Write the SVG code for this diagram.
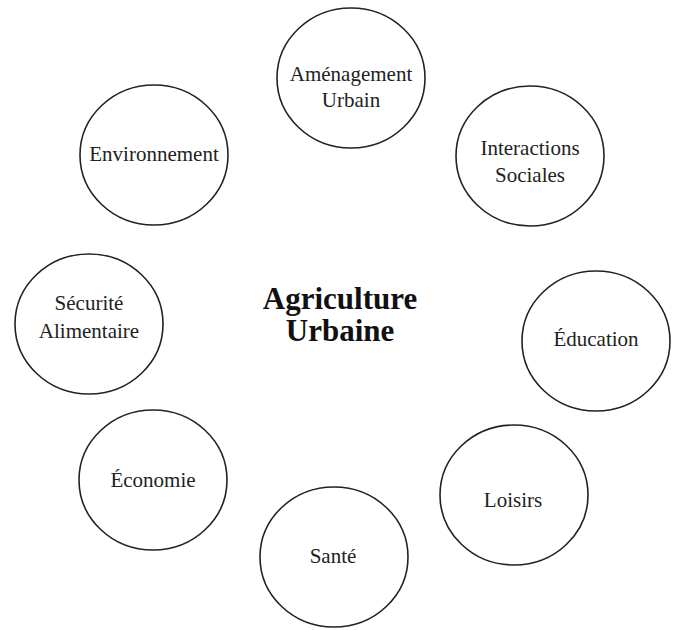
<svg xmlns="http://www.w3.org/2000/svg" width="678" height="630" viewBox="0 0 678 630">
<style>
.n ellipse{fill:#fff;stroke:#222;stroke-width:1.6}
.n text{font-family:"Liberation Serif","Times New Roman",serif;font-size:21px;fill:#222;text-anchor:middle}
.t{font-family:"Liberation Serif","Times New Roman",serif;font-size:31px;font-weight:bold;fill:#111;text-anchor:middle}
</style>
<rect width="678" height="630" fill="#fff"/>
<g id="connectors"></g>
<g id="center"><text class="t" x="340" y="309">Agriculture</text><text class="t" x="340" y="341">Urbaine</text></g>
<g id="amenagement" class="n"><ellipse cx="351" cy="78" rx="74" ry="70"/><text x="351" y="81">Aménagement</text><text x="351" y="107">Urbain</text></g>
<g id="interactions" class="n"><ellipse cx="530" cy="156" rx="74" ry="70"/><text x="530" y="155">Interactions</text><text x="530" y="182">Sociales</text></g>
<g id="environnement" class="n"><ellipse cx="154" cy="155" rx="74" ry="70"/><text x="154" y="161">Environnement</text></g>
<g id="securite" class="n"><ellipse cx="89" cy="324" rx="74" ry="70"/><text x="89" y="310">Sécurité</text><text x="89" y="338">Alimentaire</text></g>
<g id="education" class="n"><ellipse cx="596" cy="341" rx="74" ry="70"/><text x="596" y="346">Éducation</text></g>
<g id="economie" class="n"><ellipse cx="153" cy="480" rx="74" ry="70"/><text x="153" y="487">Économie</text></g>
<g id="loisirs" class="n"><ellipse cx="514" cy="495" rx="74" ry="70"/><text x="513" y="507">Loisirs</text></g>
<g id="sante" class="n"><ellipse cx="334" cy="557" rx="74" ry="70"/><text x="333" y="563">Santé</text></g>
</svg>
